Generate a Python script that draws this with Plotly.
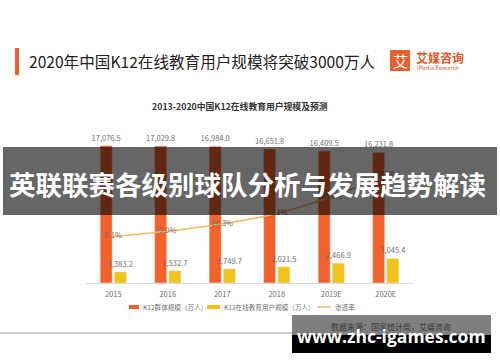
import plotly.graph_objects as go

# ---- data ----
years = ["2015", "2016", "2017", "2018", "2019E", "2020E"]
k12_population = [17076.5, 17029.8, 16984.0, 16651.8, 16409.5, 16231.8]
online_users = [1383.2, 1532.7, 1749.7, 2021.5, 2466.9, 3045.4]
penetration = [0.081, 0.090, 0.103, 0.121, 0.150, 0.188]
penetration_labels = ["8.1%", "9.0%", "10.3%", "12.1%", "15.0%", "18.8%"]

title = "2020年中国K12在线教育用户规模将突破3000万人"
subtitle = "2013-2020中国K12在线教育用户规模及预测"
banner = "英联联赛各级别球队分析与发展趋势解读"
series_names = ["K12群体规模（万人）", "K12在线教育用户规模（万人）", "渗透率"]
source = "数据来源：国家统计局，艾媒咨询"
watermark = "www.zhc-igames.com"

# ---- geometry ----
W, H = 500, 362
L, R, T, B = 86, 413, 122, 283
CJK = "Noto Sans CJK SC"


def px(x):
    return (x - L) / (R - L)


def py(y):
    return (B - y) / (B - T)


ORANGE = "#F4622B"
YELLOW = "#F2C419"
LINE = "#F2B866"
GRAY = "#707070"

fig = go.Figure()
fig.add_trace(go.Bar(
    x=years, y=k12_population, name=series_names[0], marker_color=ORANGE,
    texttemplate="%{y:,.1f}", textposition="outside", constraintext="none",
    textfont=dict(size=7.5, color=GRAY, family=CJK), cliponaxis=False,
))
fig.add_trace(go.Bar(
    x=years, y=online_users, name=series_names[1], marker_color=YELLOW,
    texttemplate="%{y:,.1f}", textposition="outside", constraintext="none",
    textfont=dict(size=7.5, color=GRAY, family=CJK), cliponaxis=False,
))
fig.add_trace(go.Scatter(
    x=years, y=penetration, name=series_names[2], yaxis="y2",
    mode="lines", line=dict(color=LINE, width=1.5, shape="spline"),
))
fig.add_trace(go.Scatter(
    x=years, y=penetration, yaxis="y2", mode="text", text=penetration_labels,
    textposition="middle center", showlegend=False,
    textfont=dict(size=7.5, color=GRAY, family=CJK),
))

shapes = [
    # title accent bar
    dict(type="rect", xref="paper", yref="paper", x0=px(15), x1=px(19),
         y0=py(75), y1=py(48), fillcolor="#EE5A2A", line_width=0, layer="above"),
    # logo square
    dict(type="rect", xref="paper", yref="paper", x0=px(390), x1=px(410),
         y0=py(71), y1=py(50), fillcolor="#E8602E", line_width=0, layer="above"),
    # legend swatches
    dict(type="rect", xref="paper", yref="paper", x0=px(129), x1=px(139),
         y0=py(309), y1=py(305), fillcolor=ORANGE, line_width=0, layer="above"),
    dict(type="rect", xref="paper", yref="paper", x0=px(207), x1=px(220),
         y0=py(309), y1=py(305), fillcolor=YELLOW, line_width=0, layer="above"),
    dict(type="line", xref="paper", yref="paper", x0=px(317), x1=px(331),
         y0=py(307), y1=py(307), line=dict(color=LINE, width=1.5), layer="above"),
    # banner
    dict(type="rect", xref="paper", yref="paper", x0=px(3), x1=px(497),
         y0=py(215), y1=py(147), fillcolor="rgba(0,0,0,0.6)", line_width=0, layer="above"),
    # footer line
    dict(type="line", xref="paper", yref="paper", x0=px(0), x1=px(292),
         y0=py(333), y1=py(333), line=dict(color="#9a9a9a", width=1), layer="above"),
    # watermark box
    dict(type="rect", xref="paper", yref="paper", x0=px(292), x1=px(491),
         y0=py(335), y1=py(315), fillcolor="rgba(0,0,0,0.5)", line_width=0, layer="above"),
    dict(type="rect", xref="paper", yref="paper", x0=px(292), x1=px(491),
         y0=py(353), y1=py(335), fillcolor="#000000", line_width=0, layer="above"),
]

annotations = [
    dict(text=title, x=px(27), y=py(61), xanchor="left", yanchor="middle",
         font=dict(size=15.6, color="#222222", family=CJK)),
    dict(text="艾", x=px(400), y=py(60.5), xanchor="center", yanchor="middle",
         font=dict(size=15, color="white", family=CJK)),
    dict(text="<b>艾媒咨询</b>", x=px(414), y=py(58), xanchor="left", yanchor="middle",
         font=dict(size=12, color="#E0572A", family=CJK)),
    dict(text="iMedia Research", x=px(415), y=py(68), xanchor="left", yanchor="middle",
         font=dict(size=5.5, color="#E0572A", family=CJK)),
    dict(text="<b>" + subtitle + "</b>", x=px(240), y=py(106), xanchor="center", yanchor="middle",
         font=dict(size=8.8, color="#333333", family=CJK)),
    # legend labels
    dict(text=series_names[0], x=px(141), y=py(307), xanchor="left", yanchor="middle",
         font=dict(size=6.6, color=GRAY, family=CJK)),
    dict(text=series_names[1], x=px(222), y=py(307), xanchor="left", yanchor="middle",
         font=dict(size=6.6, color=GRAY, family=CJK)),
    dict(text=series_names[2], x=px(333), y=py(307), xanchor="left", yanchor="middle",
         font=dict(size=6.6, color=GRAY, family=CJK)),
    dict(text="<b>" + banner + "</b>", x=px(247), y=py(183), xanchor="center", yanchor="middle",
         font=dict(size=26.5, color="white", family=CJK)),
    dict(text=source, x=px(391), y=py(326), xanchor="center", yanchor="middle",
         font=dict(size=8, color="#3a3a3a", family=CJK)),
    dict(text="<b>" + watermark + "</b>", x=px(391), y=py(336), xanchor="center", yanchor="middle",
         font=dict(size=17.5, color="white", family="Open Sans")),
]
for a in annotations:
    a.update(xref="paper", yref="paper", showarrow=False)

fig.update_layout(
    width=W, height=H, autosize=False,
    margin=dict(l=L, r=W - R, t=T, b=H - B, pad=0),
    paper_bgcolor="white", plot_bgcolor="white",
    barmode="group", bargap=0.48, bargroupgap=0.15,
    font=dict(family=CJK, color=GRAY),
    xaxis=dict(showgrid=False, showline=True, linecolor="#d9d9d9", linewidth=1,
               ticks="", tickfont=dict(size=7.5, color=GRAY), ticklabelstandoff=4),
    yaxis=dict(range=[0, 20000], visible=False),
    yaxis2=dict(range=[0, 0.28], overlaying="y", visible=False),
    showlegend=False,
    shapes=shapes, annotations=annotations,
)

fig.write_html("out.html", config={"displayModeBar": False},
               post_script="document.body.style.margin='0';")
